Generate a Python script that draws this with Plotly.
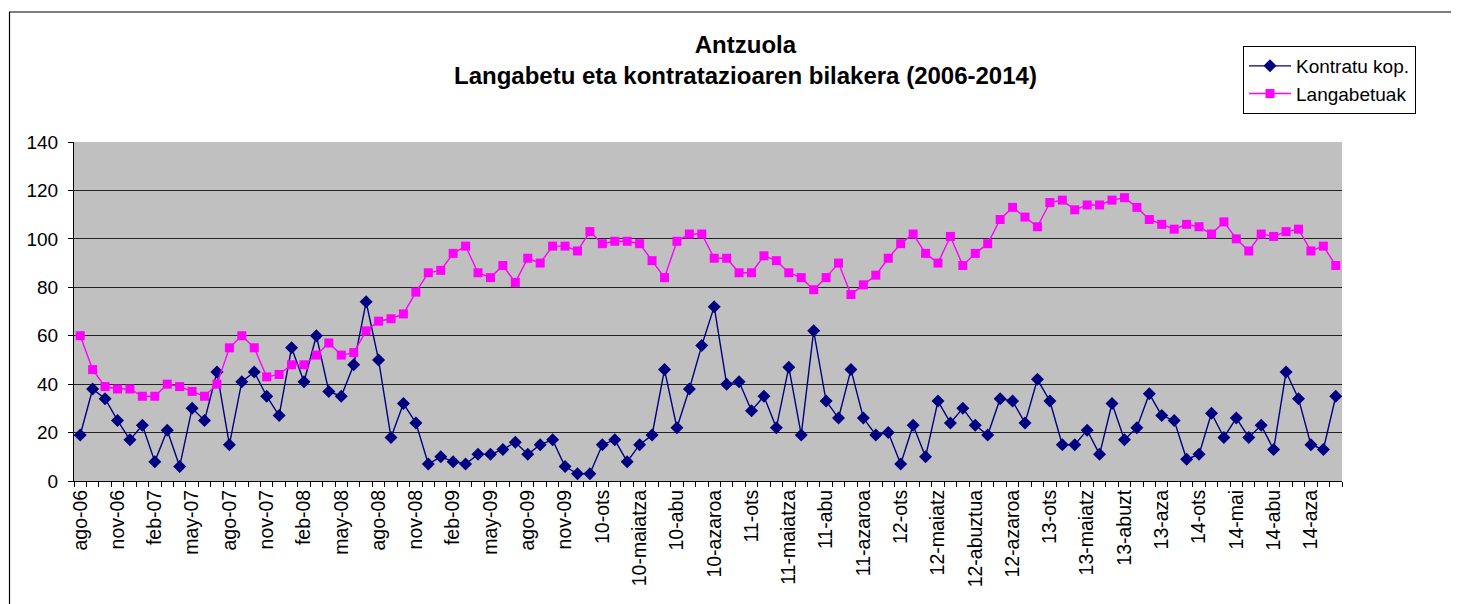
"""Antzuola: langabetu eta kontratazioaren bilakera (2006-2014)."""

import plotly.graph_objects as go

# monthly categories, ago-06 .. 15-urt
months = (
    ["ago-06", "sep-06", "oct-06", "nov-06", "dic-06"]
    + [f"{m}-{y}" for y in ("07", "08", "09")
       for m in ("ene", "feb", "mar", "abr", "may", "jun",
                 "jul", "ago", "sep", "oct", "nov", "dic")]
    + ["10-urt", "10-ots", "10-mar", "10-api", "10-maiatza", "10-eka",
       "10-uzt", "10-abu", "10-ira", "10-urr", "10-azaroa", "10-abe"]
    + ["11-urt", "11-ots", "11-mar", "11-api", "11-maiatza", "11-eka",
       "11-uzt", "11-abu", "11-ira", "11-urr", "11-azaroa", "11-abe"]
    + ["12-urt", "12-ots", "12-mar", "12-api", "12-maiatz", "12-eka",
       "12-uzt", "12-abuztua", "12-ira", "12-urr", "12-azaroa", "12-abe"]
    + ["13-urt", "13-ots", "13-mar", "13-api", "13-maiatz", "13-eka",
       "13-uzt", "13-abuzt", "13-ira", "13-urr", "13-aza", "13-abe"]
    + ["14-urt", "14-ots", "14-mar", "14-api", "14-mai", "14-eka",
       "14-uzt", "14-abu", "14-ira", "14-urr", "14-aza", "14-abe"]
    + ["15-urt"]
)

kontratu = [
    19, 38, 34, 25, 17, 23, 8, 21, 6, 30, 25, 45, 15, 41, 45, 35, 27, 55, 41, 60,
    37, 35, 48, 74, 50, 18, 32, 24, 7, 10, 8, 7, 11, 11, 13, 16, 11, 15, 17, 6,
    3, 3, 15, 17, 8, 15, 19, 46, 22, 38, 56, 72, 40, 41, 29, 35, 22, 47, 19, 62,
    33, 26, 46, 26, 19, 20, 7, 23, 10, 33, 24, 30, 23, 19, 34, 33, 24, 42, 33, 15,
    15, 21, 11, 32, 17, 22, 36, 27, 25, 9, 11, 28, 18, 26, 18, 23, 13, 45, 34, 15,
    13, 35,
]

langabetuak = [
    60, 46, 39, 38, 38, 35, 35, 40, 39, 37, 35, 40, 55, 60, 55, 43, 44, 48, 48, 52,
    57, 52, 53, 62, 66, 67, 69, 78, 86, 87, 94, 97, 86, 84, 89, 82, 92, 90, 97, 97,
    95, 103, 98, 99, 99, 98, 91, 84, 99, 102, 102, 92, 92, 86, 86, 93, 91, 86, 84, 79,
    84, 90, 77, 81, 85, 92, 98, 102, 94, 90, 101, 89, 94, 98, 108, 113, 109, 105, 115, 116,
    112, 114, 114, 116, 117, 113, 108, 106, 104, 106, 105, 102, 107, 100, 95, 102, 101, 103, 104, 95,
    97, 89,
]

idx = list(range(len(months)))
tick_idx = idx[::3][:34]

# plot area in page pixels: left 74, right 1342, top 142, bottom 481
PW, PH = 1268, 339


def px(x):
    return (x - 74) / PW


def py(y):
    return (481 - y) / PH


fig = go.Figure()
fig.add_trace(
    go.Scatter(
        x=idx,
        y=kontratu,
        mode="lines+markers",
        name="Kontratu kop.",
        line={"color": "#000080", "width": 1.4},
        marker={"symbol": "diamond", "size": 10, "color": "#000080"},
    )
)
fig.add_trace(
    go.Scatter(
        x=idx,
        y=langabetuak,
        mode="lines+markers",
        name="Langabetuak",
        line={"color": "#FF00FF", "width": 1.4},
        marker={"symbol": "square", "size": 9, "color": "#FF00FF"},
    )
)

# outer chart frame (cropped on the right and bottom, as in the source)
fig.add_shape(
    type="rect", xref="paper", yref="paper",
    x0=px(9.5), x1=px(1480), y0=py(640), y1=py(12),
    line={"color": "black", "width": 1.2}, layer="below",
)

fig.add_annotation(
    x=px(745), y=py(60), xref="paper", yref="paper",
    text="<b>Antzuola<br>Langabetu eta kontratazioaren bilakera (2006-2014)</b>",
    showarrow=False, font={"size": 24, "color": "black"}, align="center",
    yanchor="middle",
)

fig.update_layout(
    width=1451,
    height=596,
    margin={"l": 66, "r": 117, "t": 134, "b": 123},
    paper_bgcolor="white",
    plot_bgcolor="#C0C0C0",
    font={"family": "Liberation Sans, Arial, sans-serif", "size": 19, "color": "black"},
    showlegend=True,
    legend={
        "x": px(1243), "y": py(46),
        "xanchor": "left", "yanchor": "top",
        "bordercolor": "black", "borderwidth": 1, "bgcolor": "white",
        "font": {"size": 19}, "tracegroupgap": 0, "itemwidth": 42,
    },
    xaxis={
        "range": [-0.5, len(months) - 0.5],
        "tickmode": "array",
        "tickvals": tick_idx,
        "ticktext": [months[i] for i in tick_idx],
        "tickangle": -90,
        "ticks": "",
        "showgrid": False,
        "zeroline": False,
        "showline": True,
        "linecolor": "black",
        "linewidth": 1,
        "minor": {"tick0": -0.5, "dtick": 1, "ticks": "outside",
                  "ticklen": 5, "tickcolor": "black", "showgrid": False},
        "tickfont": {"size": 19.5},
    },
    yaxis={
        "range": [0, 140],
        "dtick": 20,
        "ticks": "outside",
        "ticklen": 5,
        "tickcolor": "black",
        "ticklabelstandoff": 6,
        "showgrid": True,
        "gridcolor": "#222222",
        "gridwidth": 1,
        "zeroline": False,
        "showline": True,
        "linecolor": "black",
        "linewidth": 1,
        "tickfont": {"size": 19},
    },
)

fig.write_html("out.html")
